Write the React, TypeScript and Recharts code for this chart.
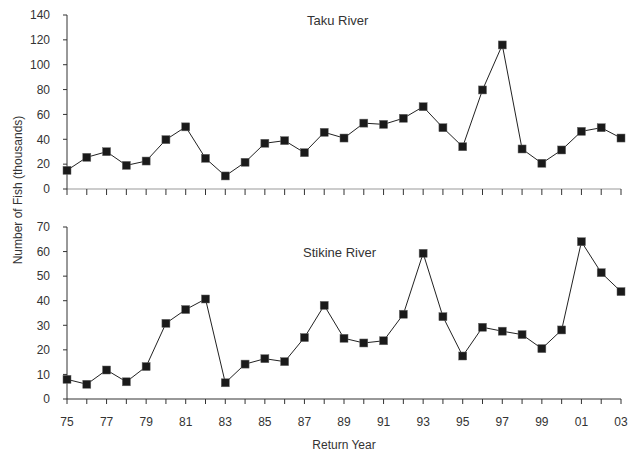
import { LineChart, Line, XAxis, YAxis } from "recharts";

const years = [
  1975, 1976, 1977, 1978, 1979, 1980, 1981, 1982, 1983, 1984, 1985, 1986, 1987, 1988, 1989,
  1990, 1991, 1992, 1993, 1994, 1995, 1996, 1997, 1998, 1999, 2000, 2001, 2002, 2003,
];
const takuFish = [
  15, 25.5, 30, 19, 22.5, 39.7, 50, 24.7, 10.5, 21.5, 36.8, 38.9, 29.2, 45.6, 41,
  53, 52, 56.9, 66.2, 49.3, 34, 79.7, 115.9, 32.2, 20.7, 31.4, 46.4, 49.3, 41,
];
const stikineFish = [
  8, 6, 11.8, 7, 13.2, 30.8, 36.4, 40.7, 6.6, 14.2, 16.4, 15.2, 25, 38.1, 24.7,
  22.8, 23.7, 34.5, 59.3, 33.5, 17.5, 29.2, 27.6, 26.2, 20.5, 28.1, 64, 51.4, 43.7,
];
const takuTicks = [0, 20, 40, 60, 80, 100, 120, 140];
const stikineTicks = [0, 10, 20, 30, 40, 50, 60, 70];

const data = years.map((year, i) => ({ year, taku: takuFish[i], stikine: stikineFish[i] }));

const font = "'Liberation Sans', Arial, sans-serif";
const tickStyle = { fontSize: 12, fill: "#333" };

// little black squares instead of round dots
function Square(props: any) {
  const { cx, cy, index } = props;
  if (cx == null || cy == null) return null;
  return (
    <rect
      key={`sq-${index}`}
      x={cx - 4}
      y={cy - 4}
      width={8}
      height={8}
      fill="#1a1a1a"
      stroke="#666"
      strokeWidth={0.5}
    />
  );
}

function yearLabel(y: number) {
  return y % 2 === 1 ? String(y % 100).padStart(2, "0") : "";
}

export default function App() {
  return (
    <div style={{ position: "absolute", left: 0, top: 0, width: 629, height: 452, background: "#fff", fontFamily: font }}>
      {/* Taku panel */}
      <div style={{ position: "absolute", left: 0, top: 0 }}>
        <LineChart width={629} height={205} data={data} margin={{ top: 15, right: 8, left: 0, bottom: 0 }}>
          <XAxis
            dataKey="year"
            type="number"
            domain={[1975, 2003]}
            ticks={years}
            tickFormatter={() => ""}
            height={16}
            tickSize={6}
            axisLine={{ stroke: "#999" }}
            tickLine={{ stroke: "#333" }}
            tick={tickStyle}
          />
          <YAxis
            domain={[0, 140]}
            ticks={takuTicks}
            width={67}
            tickSize={4}
            tickMargin={13}
            axisLine={{ stroke: "#333" }}
            tickLine={{ stroke: "#333" }}
            tick={tickStyle}
          />
          <Line
            type="linear"
            dataKey="taku"
            stroke="#222"
            strokeWidth={1}
            dot={Square}
            activeDot={false}
            isAnimationActive={false}
          />
        </LineChart>
      </div>

      {/* Stikine panel */}
      <div style={{ position: "absolute", left: 0, top: 205 }}>
        <LineChart width={629} height={247} data={data} margin={{ top: 22, right: 8, left: 0, bottom: 0 }}>
          <XAxis
            dataKey="year"
            type="number"
            domain={[1975, 2003]}
            ticks={years}
            tickFormatter={yearLabel}
            interval={0}
            height={53}
            tickSize={5}
            tickMargin={13}
            axisLine={{ stroke: "#333" }}
            tickLine={{ stroke: "#333" }}
            tick={tickStyle}
            label={{ value: "Return Year", position: "insideBottom", offset: 3, fontSize: 12, fill: "#333" }}
          />
          <YAxis
            domain={[0, 70]}
            ticks={stikineTicks}
            width={67}
            tickSize={4}
            tickMargin={13}
            axisLine={{ stroke: "#333" }}
            tickLine={{ stroke: "#333" }}
            tick={tickStyle}
          />
          <Line
            type="linear"
            dataKey="stikine"
            stroke="#222"
            strokeWidth={1}
            dot={Square}
            activeDot={false}
            isAnimationActive={false}
          />
        </LineChart>
      </div>

      {/* titles and shared y label */}
      <svg width={629} height={452} style={{ position: "absolute", left: 0, top: 0, pointerEvents: "none" }}>
        <text x={307} y={25} fontSize={13} fill="#333" fontFamily={font}>
          Taku River
        </text>
        <text x={303} y={257} fontSize={13} fill="#333" fontFamily={font}>
          Stikine River
        </text>
        <text
          x={18}
          y={190}
          transform="rotate(-90 18 190)"
          textAnchor="middle"
          dominantBaseline="central"
          fontSize={12}
          fill="#333"
          fontFamily={font}
        >
          Number of Fish (thousands)
        </text>
      </svg>
    </div>
  );
}
